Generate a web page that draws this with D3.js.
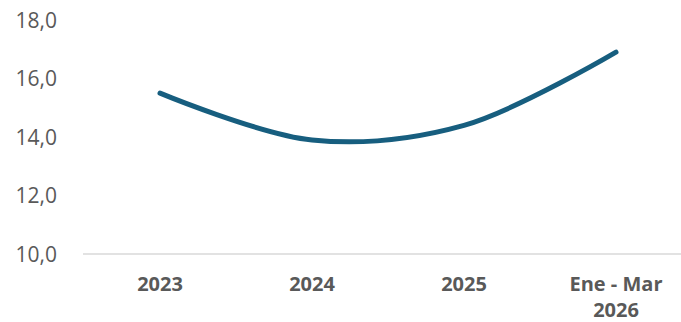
<!DOCTYPE html>
<html><head><meta charset="utf-8">
<script src="https://cdn.jsdelivr.net/npm/d3@7"></script>
<style>body{margin:0;background:#fff}svg{display:block}</style>
</head><body>
<svg id="c" width="681" height="322"></svg>
<script>
const categories = ["2023", "2024", "2025", "Ene - Mar|2026"];
const values = [15.5, 13.9, 14.4, 16.9];
const yTicks = [10, 12, 14, 16, 18];

const svg = d3.select("#c");
const x = d3.scalePoint().domain(categories).range([160, 616]);
const y = d3.scaleLinear().domain([10, 18]).range([254, 20]);
const font = "'Open Sans', Roboto, sans-serif";

// baseline
svg.append("line").attr("x1", 83).attr("x2", 681)
  .attr("y1", y(10)).attr("y2", y(10))
  .attr("stroke", "#d9d9d9").attr("stroke-width", 1.3);

// y tick labels
const fmt = v => d3.format(".1f")(v).replace(".", ",");
svg.append("g").selectAll("text").data(yTicks).join("text")
  .attr("x", 57).attr("y", d => y(d)).attr("dy", "0.36em")
  .attr("text-anchor", "end").attr("fill", "#595959")
  .attr("font-family", font).attr("font-size", 21)
  .text(fmt);

// x labels
const xl = svg.append("g").selectAll("text").data(categories).join("text")
  .attr("x", d => x(d)).attr("y", 291)
  .attr("text-anchor", "middle").attr("fill", "#595959")
  .attr("font-family", font).attr("font-size", 20).attr("font-weight", "bold");
xl.each(function(d) {
  const parts = d.split("|");
  const t = d3.select(this);
  parts.forEach((p, i) => {
    t.append("tspan").attr("x", x(d)).attr("dy", i === 0 ? 0 : 26).text(p);
  });
});

// line
const line = d3.line().x((d, i) => x(categories[i])).y(d => y(d))
  .curve(d3.curveCatmullRom.alpha(0.5));
svg.append("path").datum(values).attr("d", line)
  .attr("fill", "none").attr("stroke", "#175e7f")
  .attr("stroke-width", 5).attr("stroke-linecap", "round");
</script>
</body></html>
